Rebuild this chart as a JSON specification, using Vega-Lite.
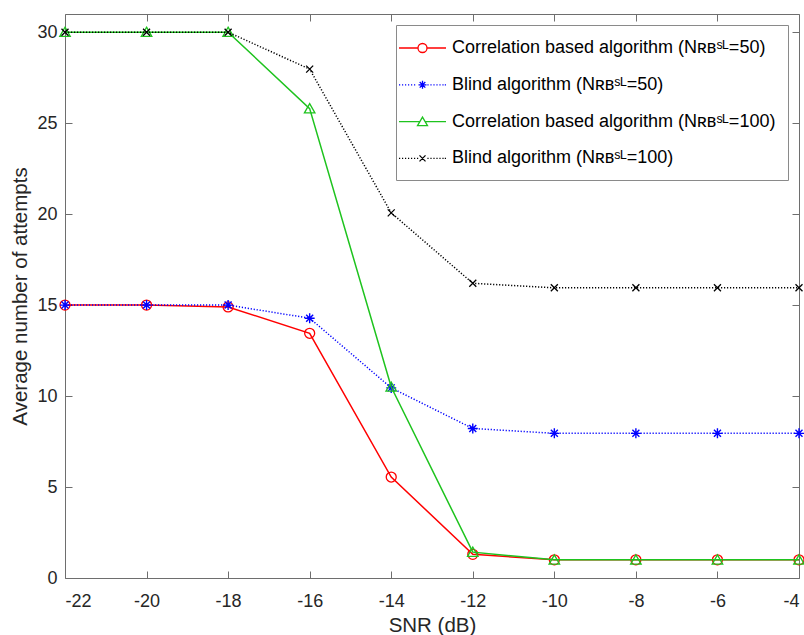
{
  "$schema": "https://vega.github.io/schema/vega-lite/v6.json",
  "width": 734,
  "height": 564,
  "autosize": "none",
  "padding": {"left": 65, "top": 14, "right": 5, "bottom": 57},
  "background": "white",
  "config": {
    "view": {"stroke": null},
    "font": "Liberation Sans",
    "axis": {
      "grid": false,
      "domainColor": "#6e6e6e",
      "domainWidth": 1,
      "tickColor": "#6e6e6e",
      "tickWidth": 1,
      "tickSize": -7,
      "labelFont": "Liberation Sans",
      "labelFontSize": 18,
      "labelColor": "#262626",
      "titleFont": "Liberation Sans",
      "titleFontSize": 20.5,
      "titleFontWeight": "normal",
      "titleColor": "#262626"
    }
  },
  "data": {
    "values": [
      {"snr": -22, "v": 15, "s": "c50"},
      {"snr": -20, "v": 15, "s": "c50"},
      {"snr": -18, "v": 14.9, "s": "c50"},
      {"snr": -16, "v": 13.45, "s": "c50"},
      {"snr": -14, "v": 5.55, "s": "c50"},
      {"snr": -12, "v": 1.3, "s": "c50"},
      {"snr": -10, "v": 1, "s": "c50"},
      {"snr": -8, "v": 1, "s": "c50"},
      {"snr": -6, "v": 1, "s": "c50"},
      {"snr": -4, "v": 1, "s": "c50"},
      {"snr": -22, "v": 15, "s": "b50"},
      {"snr": -20, "v": 15, "s": "b50"},
      {"snr": -18, "v": 15, "s": "b50"},
      {"snr": -16, "v": 14.28, "s": "b50"},
      {"snr": -14, "v": 10.45, "s": "b50"},
      {"snr": -12, "v": 8.22, "s": "b50"},
      {"snr": -10, "v": 7.95, "s": "b50"},
      {"snr": -8, "v": 7.95, "s": "b50"},
      {"snr": -6, "v": 7.95, "s": "b50"},
      {"snr": -4, "v": 7.95, "s": "b50"},
      {"snr": -22, "v": 30, "s": "c100"},
      {"snr": -20, "v": 30, "s": "c100"},
      {"snr": -18, "v": 30, "s": "c100"},
      {"snr": -16, "v": 25.8, "s": "c100"},
      {"snr": -14, "v": 10.5, "s": "c100"},
      {"snr": -12, "v": 1.42, "s": "c100"},
      {"snr": -10, "v": 1, "s": "c100"},
      {"snr": -8, "v": 1, "s": "c100"},
      {"snr": -6, "v": 1, "s": "c100"},
      {"snr": -4, "v": 1, "s": "c100"},
      {"snr": -22, "v": 30, "s": "b100"},
      {"snr": -20, "v": 30, "s": "b100"},
      {"snr": -18, "v": 30, "s": "b100"},
      {"snr": -16, "v": 27.97, "s": "b100"},
      {"snr": -14, "v": 20.07, "s": "b100"},
      {"snr": -12, "v": 16.2, "s": "b100"},
      {"snr": -10, "v": 15.95, "s": "b100"},
      {"snr": -8, "v": 15.95, "s": "b100"},
      {"snr": -6, "v": 15.95, "s": "b100"},
      {"snr": -4, "v": 15.95, "s": "b100"}
    ]
  },
  "encoding": {
    "x": {
      "field": "snr", "type": "quantitative",
      "scale": {"domain": [-22, -4], "nice": false, "zero": false},
      "axis": null
    },
    "y": {
      "field": "v", "type": "quantitative",
      "scale": {"domain": [0, 31], "nice": false},
      "axis": null
    }
  },
  "layer": [
    {
      "mark": {"type": "point", "filled": false, "size": 400, "strokeWidth": 1.3, "opacity": 0},
      "encoding": {
        "x": {
          "field": "snr", "type": "quantitative",
          "axis": {"orient": "top", "labels": false, "title": null, "values": [-22, -20, -18, -16, -14, -12, -10, -8, -6, -4]}
        },
        "y": {
          "field": "v", "type": "quantitative",
          "axis": {"orient": "right", "labels": false, "title": null, "values": [0, 5, 10, 15, 20, 25, 30]}
        },
        "color": {
          "field": "s", "type": "nominal",
          "scale": {"domain": ["c50", "b50", "c100", "b100"], "range": ["#ff0000", "#0000ff", "#1ec31e", "#000000"]},
          "legend": {
            "title": null,
            "orient": "top-right",
            "offset": 11,
            "padding": 12,
            "strokeColor": "#8a8a8a",
            "fillColor": "white",
            "labelFont": "Liberation Sans",
            "labelFontSize": 18,
            "labelColor": "#000000",
            "labelLimit": 500,
            "labelOffset": 22,
            "symbolSize": 400,
            "symbolStrokeWidth": 1.3,
            "symbolOpacity": 1,
            "rowPadding": 16.8,
            "labelExpr": "datum.value === 'c50' ? 'Correlation based algorithm (Nʀʙˢᴸ=50)' : datum.value === 'b50' ? 'Blind algorithm (Nʀʙˢᴸ=50)' : datum.value === 'c100' ? 'Correlation based algorithm (Nʀʙˢᴸ=100)' : 'Blind algorithm (Nʀʙˢᴸ=100)'"
          }
        },
        "shape": {
          "field": "s", "type": "nominal",
          "scale": {
            "domain": ["c50", "b50", "c100", "b100"],
            "range": [
              "M-2,0H-0.1M0.8,0H2.7M0.8,0A0.45,0.45 0 1,1 -0.1,0A0.45,0.45 0 1,1 0.8,0",
              "M-2,0h0.12M-1.7,0h0.12M-1.4,0h0.12M-1.1,0h0.12M-0.8,0h0.12M-0.5,0h0.12M0.84,0h0.12M1.14,0h0.12M1.44,0h0.12M1.74,0h0.12M2.04,0h0.12M2.34,0h0.12M2.58,0h0.12M0.35,-0.4V0.4M-0.05,0H0.75M0.07,-0.28L0.63,0.28M0.07,0.28L0.63,-0.28",
              "M-2,0H0.09M0.61,0H2.7M0.35,-0.45L0.85,0.4L-0.15,0.4Z",
              "M-2,0h0.12M-1.7,0h0.12M-1.4,0h0.12M-1.1,0h0.12M-0.8,0h0.12M-0.5,0h0.12M-0.2,0h0.12M0.84,0h0.12M1.14,0h0.12M1.44,0h0.12M1.74,0h0.12M2.04,0h0.12M2.34,0h0.12M2.58,0h0.12M0.05,-0.3L0.65,0.3M0.05,0.3L0.65,-0.3"
            ]
          }
        }
      }
    },
    {
      "transform": [{"filter": "datum.s === 'c50'"}],
      "mark": {"type": "line", "strokeWidth": 1.5, "color": "#ff0000"},
      "encoding": {
        "x": {
          "field": "snr", "type": "quantitative",
          "axis": {"values": [-22, -20, -18, -16, -14, -12, -10, -8, -6, -4], "labelExpr": "'' + datum.value", "title": "SNR (dB)", "labelPadding": 21, "titlePadding": 5}
        },
        "y": {
          "field": "v", "type": "quantitative",
          "axis": {"values": [0, 5, 10, 15, 20, 25, 30], "labelExpr": "'' + datum.value", "title": "Average number of attempts", "labelPadding": 15, "titlePadding": 6}
        },
        "order": {"field": "snr", "type": "quantitative"}
      }
    },
    {
      "transform": [{"filter": "datum.s === 'c50'"}],
      "mark": {"type": "point", "filled": false, "size": 100, "strokeWidth": 1.3, "opacity": 1, "shape": "circle", "color": "#ff0000"},
      "encoding": {}
    },
    {
      "transform": [{"filter": "datum.s === 'b50'"}],
      "mark": {"type": "line", "strokeWidth": 1.5, "color": "#0000ff", "strokeDash": [1.2, 1.8]},
      "encoding": {"order": {"field": "snr", "type": "quantitative"}}
    },
    {
      "transform": [{"filter": "datum.s === 'b50'"}],
      "mark": {"type": "point", "filled": false, "size": 100, "strokeWidth": 1.4, "opacity": 1, "color": "#0000ff", "shape": "M0,-1V1M-1,0H1M-0.7,-0.7L0.7,0.7M-0.7,0.7L0.7,-0.7"},
      "encoding": {}
    },
    {
      "transform": [{"filter": "datum.s === 'c100'"}],
      "mark": {"type": "line", "strokeWidth": 1.5, "color": "#1ec31e"},
      "encoding": {"order": {"field": "snr", "type": "quantitative"}}
    },
    {
      "transform": [{"filter": "datum.s === 'c100'"}],
      "mark": {"type": "point", "filled": false, "size": 100, "strokeWidth": 1.3, "opacity": 1, "color": "#1ec31e", "shape": "M0,-1L1.05,0.85L-1.05,0.85Z"},
      "encoding": {}
    },
    {
      "transform": [{"filter": "datum.s === 'b100'"}],
      "mark": {"type": "line", "strokeWidth": 1.5, "color": "#000000", "strokeDash": [1.2, 1.8]},
      "encoding": {"order": {"field": "snr", "type": "quantitative"}}
    },
    {
      "transform": [{"filter": "datum.s === 'b100'"}],
      "mark": {"type": "point", "filled": false, "size": 100, "strokeWidth": 1.3, "opacity": 1, "color": "#000000", "shape": "M-0.7,-0.7L0.7,0.7M-0.7,0.7L0.7,-0.7"},
      "encoding": {}
    }
  ],
  "resolve": {"axis": {"x": "independent", "y": "independent"}}
}
